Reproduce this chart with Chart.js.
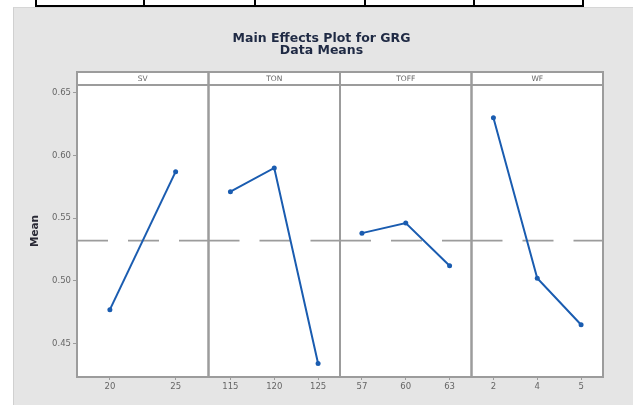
<!DOCTYPE html>
<html>
<head>
<meta charset="utf-8">
<script src="https://cdn.jsdelivr.net/npm/chart.js@4/dist/chart.umd.min.js"></script>
<style>
    body { margin: 0; background: #fff; }
    #quadro { position: relative; width: 633px; height: 405px; overflow: hidden; }
    #fundo { position: absolute; left: 13px; top: 7px; right: 0; bottom: 0; background: #e5e5e5; border-left: 1px solid #d0d0d0; border-top: 1px solid #d6d6d6; }
    .linha { position: absolute; background: #000; }
    canvas { position: absolute; left: 0; top: 0; }
</style>
</head>
<body>
<div id="quadro">
    <div id="fundo"></div>
    <!-- restos da tabela acima do gráfico -->
    <div class="linha" style="left:35px;top:5px;width:549px;height:2px"></div>
    <div class="linha" style="left:35px;top:0;width:2px;height:7px"></div>
    <div class="linha" style="left:143px;top:0;width:2px;height:7px"></div>
    <div class="linha" style="left:254px;top:0;width:2px;height:7px"></div>
    <div class="linha" style="left:364px;top:0;width:2px;height:7px"></div>
    <div class="linha" style="left:473px;top:0;width:2px;height:7px"></div>
    <div class="linha" style="left:582px;top:0;width:2px;height:7px"></div>
    <canvas id="efeitosChart" width="633" height="405"></canvas>
</div>
<script>
// Fatores e níveis
const fatores = ['SV', 'TON', 'TOFF', 'WF'];
const niveisSV = ['20', '25'];
const niveisTON = ['115', '120', '125'];
const niveisTOFF = ['57', '60', '63'];
const niveisWF = ['2', '4', '5'];

// Médias
const mediasSV = [0.477, 0.587];
const mediasTON = [0.571, 0.590, 0.434];
const mediasTOFF = [0.538, 0.546, 0.512];
const mediasWF = [0.630, 0.502, 0.465];

// Média geral (linha tracejada) e marcas do eixo Y
const mediaGeral = 0.532;
const marcasY = [0.45, 0.50, 0.55, 0.60, 0.65];

const azul = '#1a5cb0';
const cinza = '#9c9c9c';
const fonte = "'DejaVu Sans', sans-serif";

const paineis = [
    { id: 'xSV', niveis: niveisSV, medias: mediasSV },
    { id: 'xTON', niveis: niveisTON, medias: mediasTON },
    { id: 'xTOFF', niveis: niveisTOFF, medias: mediasTOFF },
    { id: 'xWF', niveis: niveisWF, medias: mediasWF }
];

// Plugin que desenha o fundo branco, as faixas com nomes dos fatores, a linha da média e as molduras
const molduraPlugin = {
    id: 'moldura',
    beforeDraw(chart) {
        const { ctx, chartArea } = chart;
        ctx.save();
        ctx.fillStyle = '#fff';
        ctx.fillRect(chartArea.left, chartArea.top - 13, chartArea.right - chartArea.left, chartArea.bottom - chartArea.top + 13);
        ctx.restore();
    },
    beforeDatasetsDraw(chart) {
        const { ctx, scales } = chart;
        const y = scales.y.getPixelForValue(mediaGeral);
        ctx.save();
        ctx.strokeStyle = cinza;
        ctx.lineWidth = 1.6;
        ctx.setLineDash([31, 20]);
        paineis.forEach(p => {
            const s = scales[p.id];
            ctx.beginPath();
            ctx.moveTo(s.left, y);
            ctx.lineTo(s.right, y);
            ctx.stroke();
        });
        ctx.restore();
    },
    afterDraw(chart) {
        const { ctx, chartArea, scales } = chart;
        const topoFaixa = chartArea.top - 13;
        ctx.save();
        ctx.strokeStyle = cinza;
        ctx.lineWidth = 2;
        // molduras de cada painel e das faixas
        paineis.forEach((p, i) => {
            const s = scales[p.id];
            ctx.strokeRect(s.left, chartArea.top, s.right - s.left, chartArea.bottom - chartArea.top);
            ctx.strokeRect(s.left, topoFaixa, s.right - s.left, 13);
            ctx.fillStyle = '#666';
            ctx.font = '7.5px ' + fonte;
            ctx.textAlign = 'center';
            ctx.textBaseline = 'middle';
            ctx.fillText(fatores[i], (s.left + s.right) / 2, topoFaixa + 7);
        });
        ctx.restore();
    }
};

const datasets = paineis.map(p => ({
    label: p.id,
    data: p.medias,
    xAxisID: p.id,
    yAxisID: 'y',
    borderColor: azul,
    backgroundColor: azul,
    borderWidth: 2,
    pointRadius: 2.5,
    pointBackgroundColor: azul,
    pointBorderWidth: 0,
    tension: 0
}));

const escalas = {
    y: {
        type: 'linear',
        position: 'left',
        min: 0.4233,
        max: 0.6561,
        afterFit: s => { s.width = 67; },
        afterBuildTicks: s => { s.ticks = marcasY.map(v => ({ value: v })); },
        ticks: {
            font: { family: fonte, size: 8.5 },
            color: '#666',
            padding: 2,
            callback: v => v.toFixed(2)
        },
        grid: { drawOnChartArea: false, tickLength: 4, color: cinza, lineWidth: 1 },
        border: { display: false },
        title: {
            display: true,
            text: 'Mean',
            color: '#2a2a36',
            font: { family: fonte, size: 10.5, weight: 'bold' },
            padding: { top: 19, bottom: 0 }
        }
    },
    // eixo vazio à direita só para manter a margem
    yDir: {
        type: 'linear',
        position: 'right',
        afterFit: s => { s.width = 30; },
        grid: { display: false },
        ticks: { display: false },
        border: { display: false }
    }
};

paineis.forEach(p => {
    escalas[p.id] = {
        type: 'category',
        position: 'bottom',
        labels: p.niveis,
        offset: true,
        stack: 'paineis',
        stackWeight: 1,
        afterFit: s => { s.height = 28; },
        ticks: {
            font: { family: fonte, size: 8.5 },
            color: '#666',
            padding: 2,
            maxRotation: 0,
            autoSkip: false
        },
        grid: { offset: false, drawOnChartArea: false, tickLength: 3, color: cinza },
        border: { display: false }
    };
});

const ctx = document.getElementById('efeitosChart').getContext('2d');
new Chart(ctx, {
    type: 'line',
    data: { datasets: datasets },
    options: {
        responsive: false,
        animation: false,
        layout: { padding: { left: 10, right: 0, top: 0, bottom: 0 } },
        scales: escalas,
        plugins: {
            legend: { display: false },
            tooltip: { enabled: false },
            title: {
                display: true,
                text: ['Main Effects Plot for GRG', 'Data Means'],
                color: '#1f2a44',
                font: { family: fonte, size: 12.5, weight: 'bold', lineHeight: 1.0 },
                padding: { top: 32, bottom: 28 }
            }
        }
    },
    plugins: [molduraPlugin]
});
</script>
</body>
</html>
